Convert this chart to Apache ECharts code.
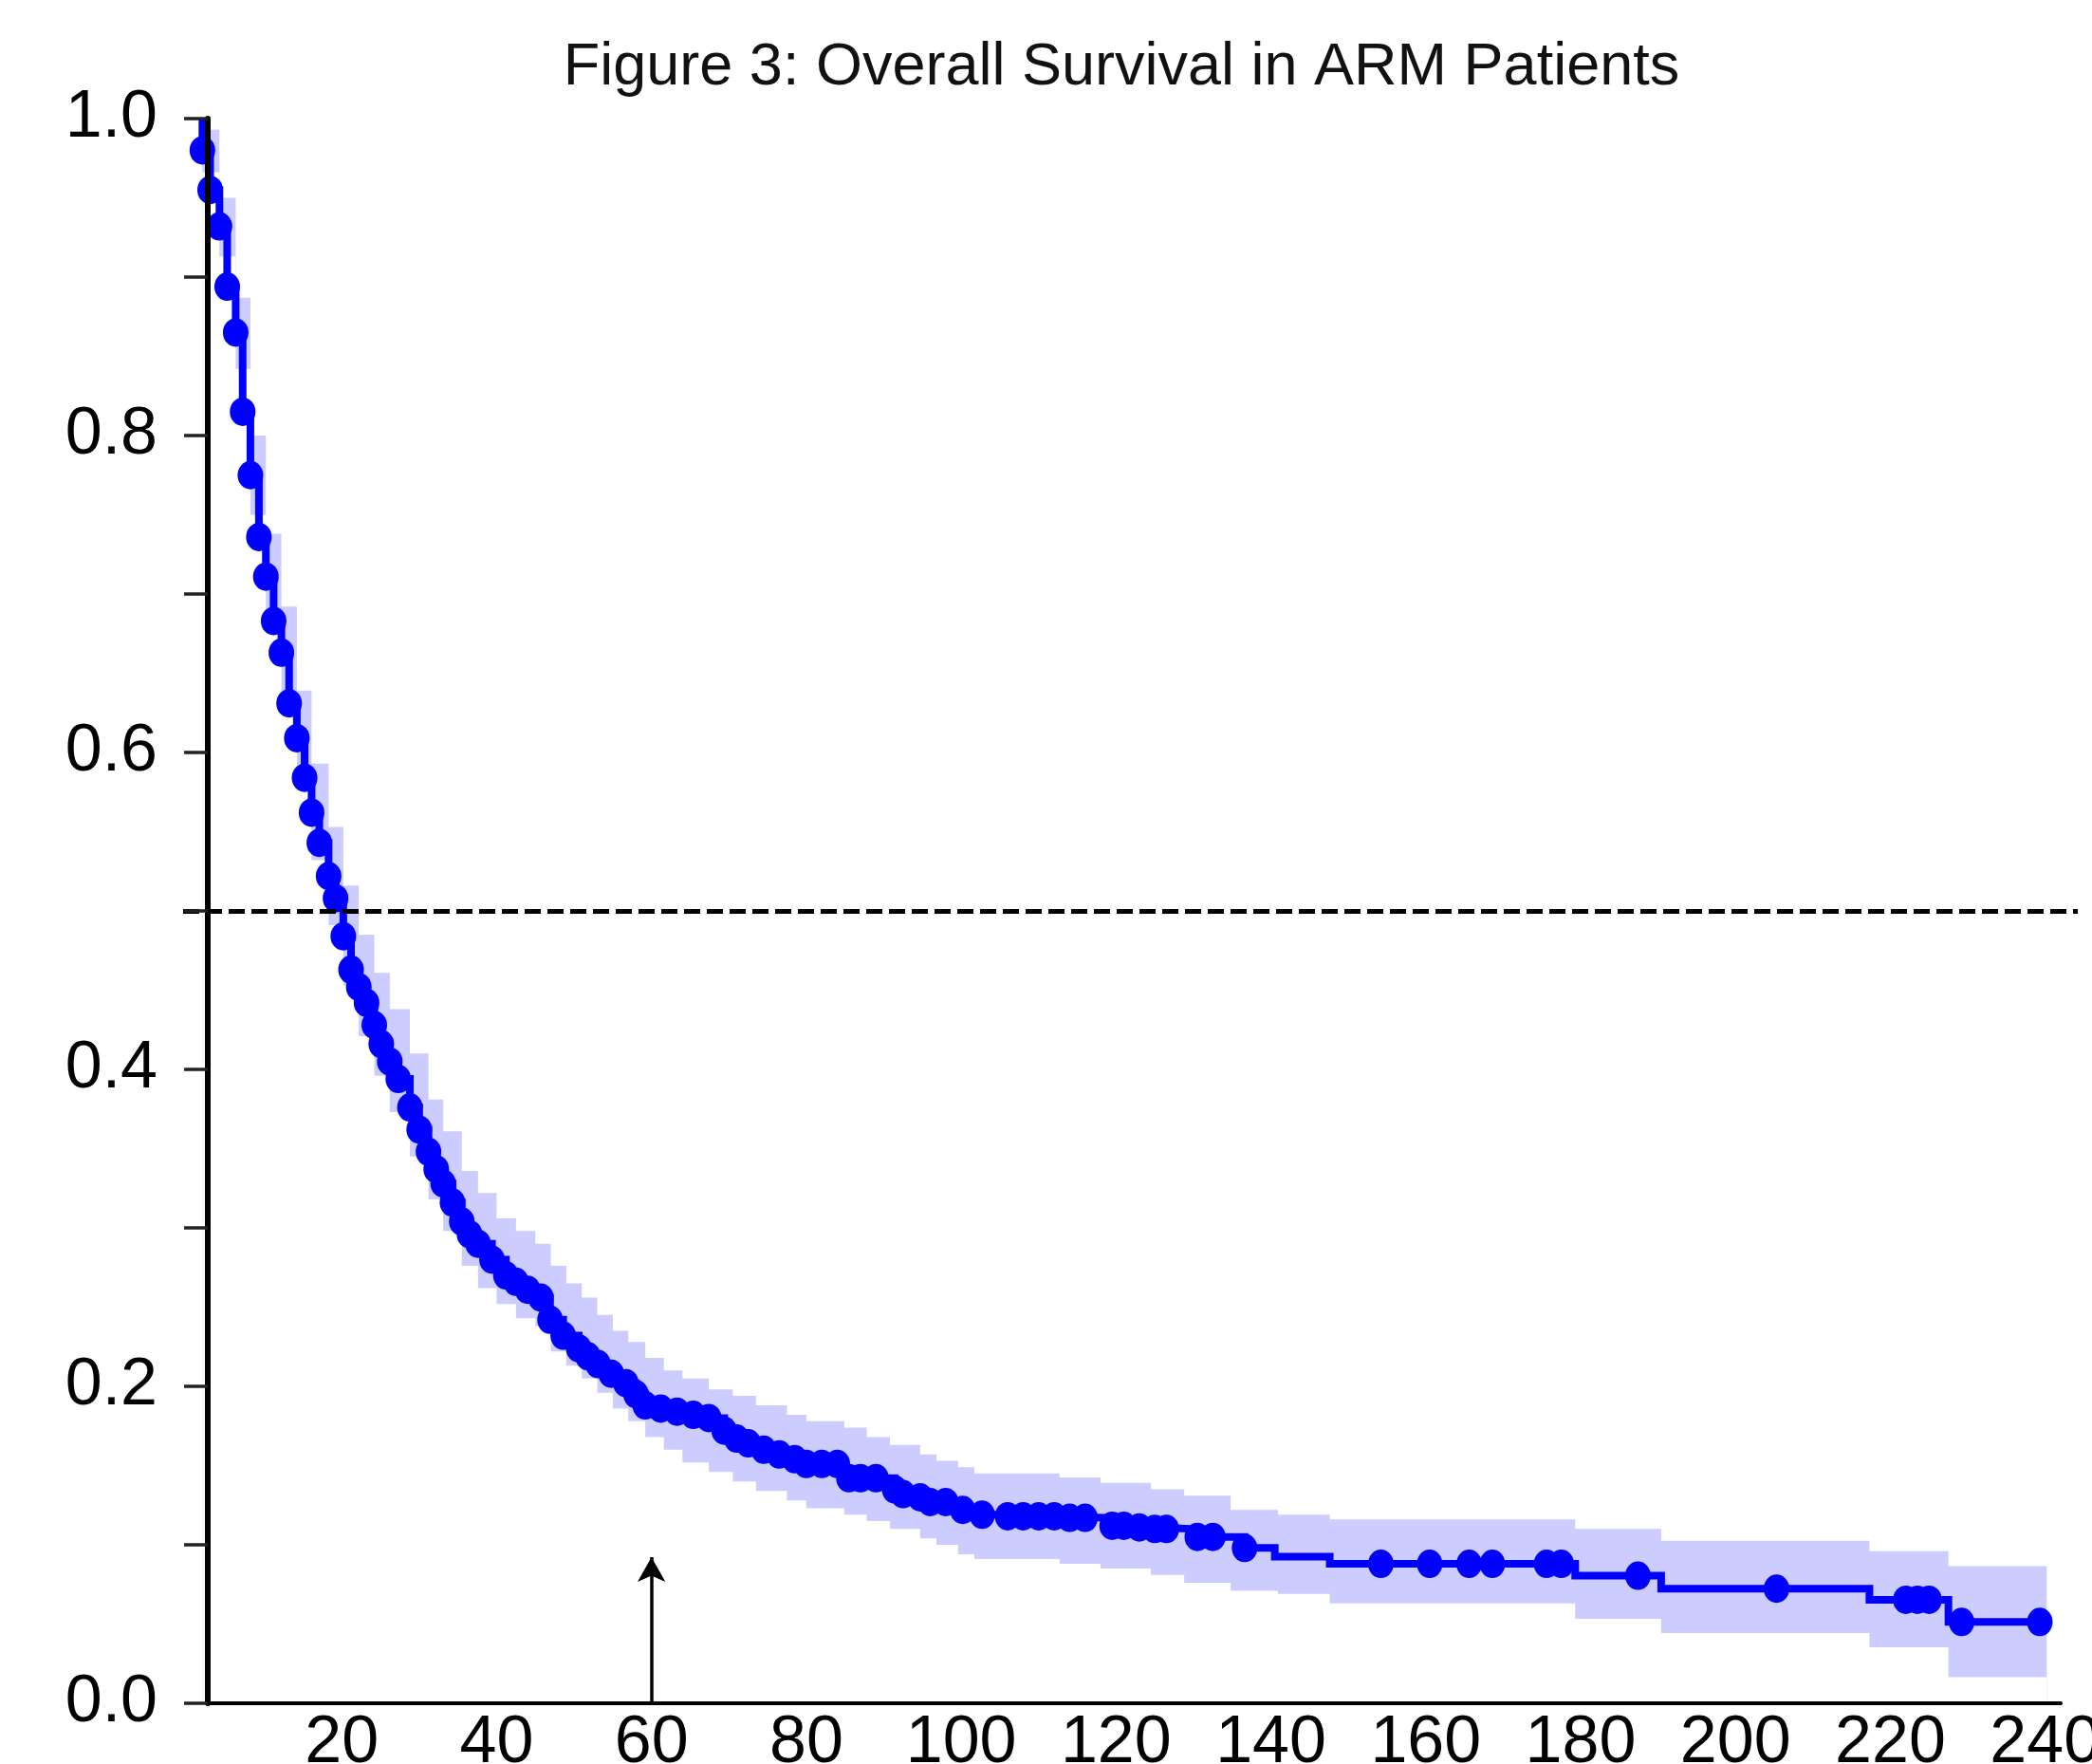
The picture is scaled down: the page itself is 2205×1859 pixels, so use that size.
<!DOCTYPE html>
<html>
<head>
<meta charset="utf-8">
<script src="https://cdn.jsdelivr.net/npm/echarts/dist/echarts.min.js"></script>
<style>
html,body{margin:0;padding:0;background:#fff;}
#chart{width:2205px;height:1859px;}
</style>
</head>
<body>
<div id="chart"></div>
<script>
// ---------------- data ----------------
const chartTitle = 'Figure 3: Overall Survival in ARM Patients';
const xTickLabels = [20, 40, 60, 80, 100, 120, 140, 160, 180, 200, 220, 240];
const yTickLabels = ['0.0', '0.2', '0.4', '0.6', '0.8', '1.0'];

// Kaplan–Meier step points (time, survival after the step)
const kmTime = [2.0, 2.0, 3.0, 4.2, 5.2, 6.3, 7.2, 8.2, 9.3, 10.2, 11.2, 12.2, 13.2, 14.2, 15.2, 16.1, 17.1, 18.3, 19.2, 20.2,
  21.2, 22.2, 23.2, 24.2, 25.1, 26.2, 27.3, 28.8, 30.0, 31.2, 32.2, 33.1, 34.3, 35.5, 36.5, 37.6, 39.4, 41.2, 42.5, 44.0,
  45.7, 46.9, 48.6, 50.6, 51.8, 53.1, 54.8, 56.7, 58.0, 59.2, 61.2, 63.3, 65.4, 67.4, 69.4, 71.0, 72.5, 74.5, 76.5, 78.5,
  80.0, 85.0, 91.4, 92.5, 94.7, 96.0, 100.2, 102.7, 105.5, 113.0, 118.8, 123.0, 125.5, 129.8, 136.6, 140.5, 147.6, 179.3,
  190.4, 217.3, 227.5, 239.3];
const kmSurv = [1.0, 0.980, 0.955, 0.932, 0.894, 0.865, 0.815, 0.775, 0.736, 0.711, 0.683, 0.663, 0.631, 0.609, 0.584, 0.562, 0.543, 0.522, 0.508, 0.484,
  0.463, 0.452, 0.442, 0.428, 0.416, 0.405, 0.394, 0.376, 0.362, 0.348, 0.337, 0.328, 0.316, 0.304, 0.296, 0.290, 0.280, 0.270, 0.266, 0.261,
  0.256, 0.242, 0.232, 0.224, 0.219, 0.214, 0.208, 0.202, 0.195, 0.188, 0.186, 0.184, 0.182, 0.180, 0.172, 0.167, 0.164, 0.160, 0.157, 0.154,
  0.151, 0.142, 0.135, 0.132, 0.130, 0.127, 0.122, 0.119, 0.118, 0.117, 0.112, 0.111, 0.110, 0.105, 0.098, 0.0925, 0.088, 0.0805,
  0.0723, 0.0653, 0.0513, 0.0513];

// marks drawn on the curve
const markTime = [2.0, 3.0, 4.2, 5.2, 6.3, 7.2, 8.2, 9.3, 10.2, 11.2, 12.2, 13.2, 14.2, 15.2, 16.1, 17.1, 18.3, 19.2, 20.2, 21.2,
  22.2, 23.2, 24.2, 25.1, 26.2, 27.3, 28.8, 30.0, 31.2, 32.2, 33.1, 34.3, 35.5, 36.5, 37.6, 39.4, 41.2, 42.5, 44.0, 45.7,
  46.9, 48.6, 50.6, 51.8, 53.1, 54.8, 56.7, 58.0, 59.2, 61.2, 63.3, 65.4, 67.4, 69.4, 71.0, 72.5, 74.5, 76.5, 78.5, 80.0,
  82.0, 84.0, 85.5, 87.0, 89.0, 91.4, 92.5, 94.7, 96.0, 98.0, 100.2, 102.7, 106.0, 108.0, 110.0, 112.0, 114.0, 116.0, 119.5, 121.0,
  123.0, 125.0, 126.5, 130.5, 132.5, 136.6, 154.2, 160.5, 165.6, 168.6, 175.6, 177.5, 187.4, 205.3, 222.0, 223.5, 225.0, 229.2, 239.3];
const markSurv = [0.980, 0.955, 0.932, 0.894, 0.865, 0.815, 0.775, 0.736, 0.711, 0.683, 0.663, 0.631, 0.609, 0.584, 0.562, 0.543, 0.522, 0.508, 0.484, 0.463,
  0.452, 0.442, 0.428, 0.416, 0.405, 0.394, 0.376, 0.362, 0.348, 0.337, 0.328, 0.316, 0.304, 0.296, 0.290, 0.280, 0.270, 0.266, 0.261, 0.256,
  0.242, 0.232, 0.224, 0.219, 0.214, 0.208, 0.202, 0.195, 0.188, 0.186, 0.184, 0.182, 0.180, 0.172, 0.167, 0.164, 0.160, 0.157, 0.154, 0.151,
  0.151, 0.151, 0.142, 0.142, 0.142, 0.135, 0.132, 0.130, 0.127, 0.127, 0.122, 0.119, 0.118, 0.118, 0.118, 0.118, 0.117, 0.117, 0.112, 0.112,
  0.111, 0.110, 0.110, 0.105, 0.105, 0.098, 0.088, 0.088, 0.088, 0.088, 0.088, 0.088, 0.0805, 0.0723, 0.0653, 0.0653, 0.0653, 0.0513, 0.0513];

// confidence band (time, upper, lower), step-wise
const bandTime = [2.0, 4.2, 6.3, 8.2, 10.2, 12.2, 14.2, 16.1, 18.3, 20.2, 22.2, 24.2, 26.2, 28.8, 31.2, 33.1, 35.5, 37.6, 40.0, 42.5,
  45.0, 47.0, 49.0, 51.0, 53.0, 55.0, 57.0, 59.2, 61.6, 64.0, 67.4, 70.5, 73.5, 77.5, 80.0, 84.9, 87.8, 90.8, 94.7, 96.8,
  99.6, 101.7, 112.7, 118.0, 124.5, 128.8, 134.8, 140.9, 147.6, 179.3, 190.4, 217.3, 227.5, 240.2];
const bandUpper = [0.993, 0.950, 0.887, 0.800, 0.738, 0.692, 0.639, 0.593, 0.553, 0.516, 0.485, 0.461, 0.438, 0.410, 0.381, 0.361, 0.336, 0.322, 0.306, 0.298,
  0.290, 0.276, 0.265, 0.256, 0.245, 0.235, 0.228, 0.218, 0.210, 0.205, 0.198, 0.194, 0.188, 0.182, 0.178, 0.174, 0.168, 0.163, 0.157, 0.153,
  0.149, 0.145, 0.1425, 0.139, 0.135, 0.131, 0.122, 0.119, 0.116, 0.110, 0.1026, 0.096, 0.0866, 0.0866];
const bandLower = [0.966, 0.913, 0.842, 0.750, 0.684, 0.635, 0.580, 0.532, 0.491, 0.453, 0.421, 0.396, 0.373, 0.345, 0.318, 0.298, 0.276, 0.262, 0.252, 0.243,
  0.238, 0.222, 0.213, 0.205, 0.196, 0.186, 0.178, 0.168, 0.160, 0.152, 0.146, 0.140, 0.134, 0.128, 0.123, 0.119, 0.115, 0.110, 0.104, 0.100,
  0.094, 0.091, 0.088, 0.085, 0.081, 0.076, 0.071, 0.069, 0.063, 0.0533, 0.0443, 0.0353, 0.0164, 0.0164];

const medianLevel = 0.5;
const arrowTime = 60;
const arrowTop = 0.1;
const xMax = 242;
const axisStart = 2.7;

// ---------------- layout ----------------
const W = 2205, H = 1859;
const plotLeft = 197, plotRight = 2172, plotTop = 125, plotBottom = 1795;
const frameLeft = plotLeft + axisStart / xMax * (plotRight - plotLeft);
const FONT = '"Liberation Sans", Arial, sans-serif';
const arrowHead = [22, 26];
// markLine centres its arrow symbol on the end point: pull the end back by half the head
const arrowEnd = arrowTop - (arrowHead[1] / 2) / (plotBottom - plotTop);

const pairs = (a, b) => a.map((t, i) => [t, b[i]]);
const kmData = pairs(kmTime, kmSurv);
const markData = pairs(markTime, markSurv);
const upperData = pairs(bandTime, bandUpper);
const lowerData = pairs(bandTime, bandLower);

const gridBase = {top: plotTop, bottom: H - plotBottom, containLabel: false, outerBoundsMode: 'none'};

const chart = echarts.init(document.getElementById('chart'), null, {renderer: 'canvas'});
chart.setOption({
  animation: false,
  backgroundColor: '#ffffff',
  graphic: [{
    type: 'text', x: 1182, y: 72, z: 20,
    style: {text: chartTitle, fill: '#111', font: 'normal 63px ' + FONT, textAlign: 'center', textVerticalAlign: 'middle'}
  }],
  grid: [
    Object.assign({left: plotLeft, right: W - plotRight}, gridBase),
    Object.assign({left: frameLeft, right: W - plotRight}, gridBase),
    Object.assign({left: 193, right: 15}, gridBase)
  ],
  xAxis: [
    {
      gridIndex: 0, type: 'value', min: 0, max: xMax, interval: 20,
      axisLine: {show: false}, axisTick: {show: false}, splitLine: {show: false},
      axisLabel: {
        fontSize: 70, fontFamily: FONT, color: '#000', margin: 8,
        formatter: v => xTickLabels.includes(v) ? String(v) : ''
      }
    },
    {
      gridIndex: 1, type: 'value', min: 0, max: 1, z: 10,
      axisLine: {show: true, lineStyle: {color: '#000', width: 4}},
      axisTick: {show: false}, axisLabel: {show: false}, splitLine: {show: false}
    },
    {gridIndex: 2, type: 'value', min: 0, max: 1, show: false}
  ],
  yAxis: [
    {gridIndex: 0, type: 'value', min: 0, max: 1, show: false},
    {
      gridIndex: 1, type: 'value', min: 0, max: 1, interval: 0.1, z: 10,
      axisLine: {show: true, lineStyle: {color: '#000', width: 6}},
      axisTick: {show: true, length: 25, lineStyle: {color: '#222', width: 3.5}},
      splitLine: {show: false},
      axisLabel: {
        fontSize: 70, fontFamily: FONT, color: '#000', margin: 53,
        formatter: v => {
          const k = Math.round(v * 10);
          return k % 2 === 0 ? yTickLabels[k / 2] : '';
        }
      }
    },
    {gridIndex: 2, type: 'value', min: 0, max: 1, show: false}
  ],
  series: [
    {
      name: 'ciUpper', type: 'line', xAxisIndex: 0, yAxisIndex: 0, step: 'end',
      data: upperData, symbol: 'none', lineStyle: {width: 0, opacity: 0},
      areaStyle: {color: '#ccccff', opacity: 1, origin: 'start'}, z: 1, silent: true
    },
    {
      name: 'ciLower', type: 'line', xAxisIndex: 0, yAxisIndex: 0, step: 'end',
      data: lowerData, symbol: 'none', lineStyle: {width: 0, opacity: 0},
      areaStyle: {color: '#ffffff', opacity: 1, origin: 'start'}, z: 2, silent: true
    },
    {
      name: 'survival', type: 'line', xAxisIndex: 0, yAxisIndex: 0, step: 'end',
      data: kmData, symbol: 'none', lineStyle: {color: '#0000ff', width: 8, join: 'miter'}, z: 3, silent: true
    },
    {
      name: 'marks', type: 'scatter', xAxisIndex: 0, yAxisIndex: 0,
      data: markData, symbol: 'circle', symbolSize: [27, 30],
      itemStyle: {color: '#0000ff', opacity: 1}, z: 4, silent: true
    },
    {
      name: 'arrow', type: 'line', xAxisIndex: 0, yAxisIndex: 0, data: [], z: 6, silent: true,
      markLine: {
        silent: true, symbol: ['none', 'arrow'], symbolSize: arrowHead,
        label: {show: false},
        lineStyle: {color: '#000', width: 3.5, type: 'solid'},
        data: [[{coord: [arrowTime, 0]}, {coord: [arrowTime, arrowEnd]}]]
      }
    },
    {
      name: 'median', type: 'line', xAxisIndex: 2, yAxisIndex: 2, data: [], z: 8, silent: true,
      markLine: {
        silent: true, symbol: ['none', 'none'], label: {show: false},
        lineStyle: {color: '#000', width: 5, type: [17, 7]},
        data: [{yAxis: medianLevel}]
      }
    }
  ]
});
</script>
</body>
</html>
